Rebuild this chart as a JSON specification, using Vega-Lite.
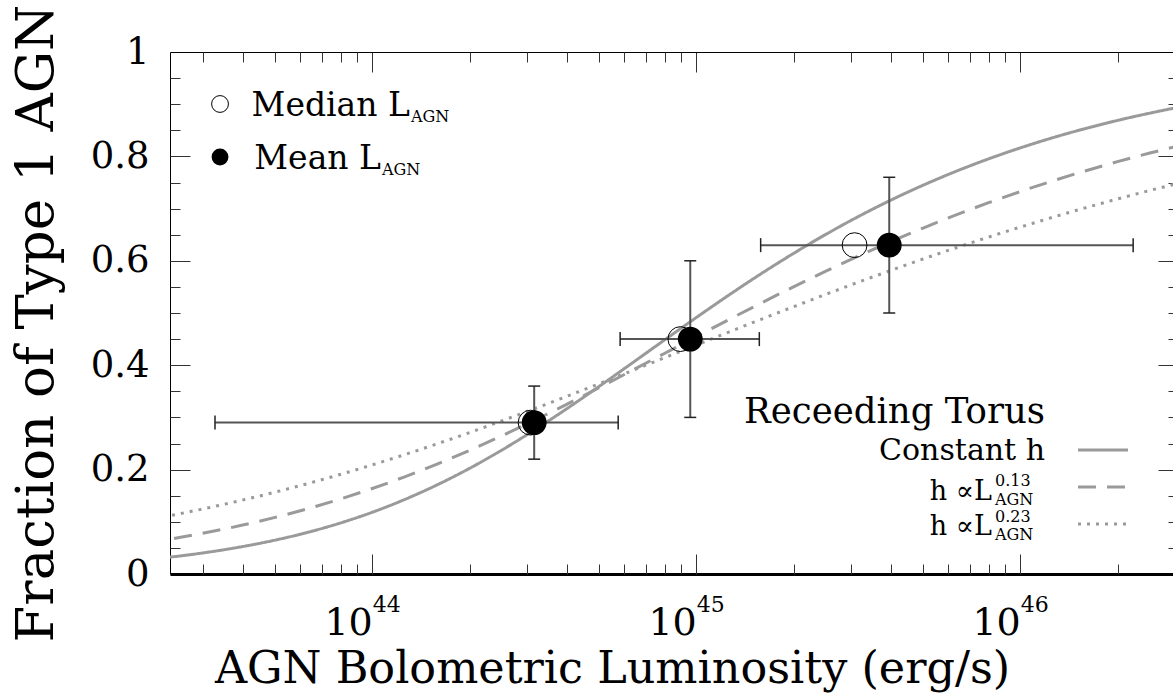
{
  "$schema": "https://vega.github.io/schema/vega-lite/v6.json",
  "width": 1003,
  "height": 522,
  "autosize": {"type": "none"},
  "padding": {"left": 170, "top": 52, "right": 0, "bottom": 122},
  "background": "white",
  "config": {
    "view": {"stroke": null},
    "font": "DejaVu Serif",
    "axis": {"grid": false, "labelFont": "DejaVu Serif", "titleFont": "DejaVu Serif", "labelColor": "#000", "titleColor": "#000", "tickColor": "#333", "domainColor": "#000", "labelFlush": false, "labelOverlap": false, "labelBound": false, "titleFontWeight": "normal"}
  },
  "datasets": {
    "curves": [
      {"L": 1.9953e43, "c": 0.0274, "a": 0.0595, "b": 0.1030},
      {"L": 2.5119e43, "c": 0.0341, "a": 0.0694, "b": 0.1148},
      {"L": 3.1623e43, "c": 0.0424, "a": 0.0808, "b": 0.1277},
      {"L": 3.9811e43, "c": 0.0526, "a": 0.0937, "b": 0.1417},
      {"L": 5.0119e43, "c": 0.0649, "a": 0.1084, "b": 0.1568},
      {"L": 6.3096e43, "c": 0.0797, "a": 0.1249, "b": 0.1731},
      {"L": 7.9433e43, "c": 0.0974, "a": 0.1434, "b": 0.1905},
      {"L": 1e44, "c": 0.1183, "a": 0.1638, "b": 0.2091},
      {"L": 1.2589e44, "c": 0.1427, "a": 0.1862, "b": 0.2287},
      {"L": 1.5849e44, "c": 0.1707, "a": 0.2106, "b": 0.2494},
      {"L": 1.9953e44, "c": 0.2023, "a": 0.2368, "b": 0.2709},
      {"L": 2.5119e44, "c": 0.2374, "a": 0.2648, "b": 0.2934},
      {"L": 3.1623e44, "c": 0.2757, "a": 0.2943, "b": 0.3165},
      {"L": 3.9811e44, "c": 0.3165, "a": 0.3251, "b": 0.3403},
      {"L": 5.0119e44, "c": 0.3593, "a": 0.3569, "b": 0.3645},
      {"L": 6.3096e44, "c": 0.4032, "a": 0.3893, "b": 0.3891},
      {"L": 7.9433e44, "c": 0.4475, "a": 0.4220, "b": 0.4138},
      {"L": 1e45, "c": 0.4913, "a": 0.4547, "b": 0.4386},
      {"L": 1.2589e45, "c": 0.5341, "a": 0.4872, "b": 0.4634},
      {"L": 1.5849e45, "c": 0.5752, "a": 0.5190, "b": 0.4879},
      {"L": 1.9953e45, "c": 0.6141, "a": 0.5501, "b": 0.5120},
      {"L": 2.5119e45, "c": 0.6507, "a": 0.5801, "b": 0.5358},
      {"L": 3.1623e45, "c": 0.6847, "a": 0.6090, "b": 0.5590},
      {"L": 3.9811e45, "c": 0.7161, "a": 0.6365, "b": 0.5815},
      {"L": 5.0119e45, "c": 0.7448, "a": 0.6627, "b": 0.6035},
      {"L": 6.3096e45, "c": 0.7710, "a": 0.6874, "b": 0.6246},
      {"L": 7.9433e45, "c": 0.7948, "a": 0.7108, "b": 0.6450},
      {"L": 1e46, "c": 0.8163, "a": 0.7326, "b": 0.6646},
      {"L": 1.2589e46, "c": 0.8358, "a": 0.7531, "b": 0.6834},
      {"L": 1.5849e46, "c": 0.8532, "a": 0.7721, "b": 0.7014},
      {"L": 1.9953e46, "c": 0.8689, "a": 0.7899, "b": 0.7185},
      {"L": 2.5119e46, "c": 0.8829, "a": 0.8064, "b": 0.7348},
      {"L": 3.1623e46, "c": 0.8955, "a": 0.8217, "b": 0.7503},
      {"L": 3.9811e46, "c": 0.9068, "a": 0.8358, "b": 0.7650}
    ],
    "pts": [
      {"Lmed": 3.08e44, "Lmean": 3.16e44, "f": 0.29, "Llo": 3.27e43, "Lhi": 5.74e44, "flo": 0.22, "fhi": 0.36},
      {"Lmed": 8.93e44, "Lmean": 9.58e44, "f": 0.45, "Llo": 5.82e44, "Lhi": 1.565e45, "flo": 0.30, "fhi": 0.60},
      {"Lmed": 3.08e45, "Lmean": 3.94e45, "f": 0.63, "Llo": 1.58e45, "Lhi": 2.23e46, "flo": 0.50, "fhi": 0.76}
    ]
  },
  "resolve": {"axis": {"x": "independent", "y": "independent"}},
  "layer": [
    {
      "data": {"name": "curves"},
      "transform": [{"fold": ["c", "a", "b"], "as": ["model", "f"]}],
      "mark": {"type": "line", "clip": true, "color": "#9a9a9a", "strokeWidth": 3, "interpolate": "monotone"},
      "encoding": {
        "x": {"field": "L", "type": "quantitative",
          "scale": {"type": "log", "domain": [2.375e43, 2.96e46], "nice": false},
          "axis": {"orient": "bottom", "values": [1e44, 1e45, 1e46], "labels": false, "ticks": false, "tickSize": 0, "domain": true, "domainWidth": 3, "title": "AGN Bolometric Luminosity (erg/s)", "titleFontSize": 44.5, "titleX": 442, "titleY": 108, "titleAlign": "center", "titleBaseline": "alphabetic"}},
        "y": {"field": "f", "type": "quantitative",
          "scale": {"domain": [0, 1], "nice": false},
          "axis": {"orient": "left", "values": [0, 0.2, 0.4, 0.6, 0.8, 1], "format": ".1~f", "ticks": false, "tickSize": 0, "labelFontSize": 37, "labelPadding": 21, "labelBaseline": "middle", "domain": true, "domainWidth": 1, "title": "Fraction of Type 1 AGN", "titleFontSize": 53, "titleAngle": 270, "titleX": -118, "titleY": 271, "titleAlign": "center", "titleBaseline": "alphabetic"}},
        "strokeDash": {"field": "model", "type": "nominal", "scale": {"domain": ["c", "a", "b"], "range": [[1, 0], [18, 11], [3, 6]]}, "legend": null}
      }
    },
    {
      "data": {"name": "pts"},
      "mark": {"type": "rule", "color": "#555", "strokeWidth": 2},
      "encoding": {
        "x": {"field": "Llo", "type": "quantitative", "axis": {"orient": "bottom", "values": [1e44, 1e45, 1e46], "labels": false, "domain": false, "ticks": true, "tickSize": -20, "tickWidth": 1, "title": null}},
        "x2": {"field": "Lhi"},
        "y": {"field": "f", "type": "quantitative", "axis": {"orient": "left", "values": [0.2, 0.4, 0.6, 0.8], "labels": false, "domain": false, "ticks": true, "tickSize": -20, "tickWidth": 1, "title": null}}
      }
    },
    {
      "data": {"name": "pts"},
      "mark": {"type": "rule", "color": "#555", "strokeWidth": 2},
      "encoding": {
        "x": {"field": "Lmean", "type": "quantitative", "axis": {"orient": "bottom", "values": [3e43, 4e43, 5e43, 6e43, 7e43, 8e43, 9e43, 2e44, 3e44, 4e44, 5e44, 6e44, 7e44, 8e44, 9e44, 2e45, 3e45, 4e45, 5e45, 6e45, 7e45, 8e45, 9e45, 2e46], "labels": false, "domain": false, "ticks": true, "tickSize": -10, "tickWidth": 1, "title": null}},
        "y": {"field": "flo", "type": "quantitative", "axis": {"orient": "left", "values": [0.05, 0.1, 0.15, 0.25, 0.3, 0.35, 0.45, 0.5, 0.55, 0.65, 0.7, 0.75, 0.85, 0.9, 0.95], "labels": false, "domain": false, "ticks": true, "tickSize": -10, "tickWidth": 1, "title": null}},
        "y2": {"field": "fhi"}
      }
    },
    {
      "data": {"name": "pts"},
      "transform": [{"fold": ["Llo", "Lhi"], "as": ["end", "Lend"]}],
      "mark": {"type": "tick", "orient": "vertical", "size": 14, "thickness": 1.5, "color": "#222", "opacity": 1},
      "encoding": {
        "x": {"field": "Lend", "type": "quantitative", "axis": {"orient": "top", "values": [1e44, 1e45, 1e46], "labels": false, "domain": true, "domainWidth": 1, "ticks": true, "tickSize": -20, "tickWidth": 1, "title": null}},
        "y": {"field": "f", "type": "quantitative", "axis": {"orient": "right", "offset": 5, "values": [0.2, 0.4, 0.6, 0.8], "labels": false, "domain": false, "ticks": true, "tickSize": -20, "tickWidth": 1, "title": null}}
      }
    },
    {
      "data": {"name": "pts"},
      "transform": [{"fold": ["flo", "fhi"], "as": ["end", "fend"]}],
      "mark": {"type": "tick", "orient": "horizontal", "size": 12, "thickness": 1.5, "color": "#222", "opacity": 1},
      "encoding": {
        "x": {"field": "Lmean", "type": "quantitative", "axis": {"orient": "top", "values": [3e43, 4e43, 5e43, 6e43, 7e43, 8e43, 9e43, 2e44, 3e44, 4e44, 5e44, 6e44, 7e44, 8e44, 9e44, 2e45, 3e45, 4e45, 5e45, 6e45, 7e45, 8e45, 9e45, 2e46], "labels": false, "domain": false, "ticks": true, "tickSize": -10, "tickWidth": 1, "title": null}},
        "y": {"field": "fend", "type": "quantitative", "axis": {"orient": "right", "offset": 5, "values": [0.05, 0.1, 0.15, 0.25, 0.3, 0.35, 0.45, 0.5, 0.55, 0.65, 0.7, 0.75, 0.85, 0.9, 0.95], "labels": false, "domain": false, "ticks": true, "tickSize": -10, "tickWidth": 1, "title": null}}
      }
    },
    {
      "data": {"name": "pts"},
      "mark": {"type": "point", "shape": "circle", "filled": false, "stroke": "#000", "strokeWidth": 1, "size": 616, "opacity": 1},
      "encoding": {
        "x": {"field": "Lmed", "type": "quantitative", "axis": {"orient": "bottom", "values": [1e44, 1e45, 1e46], "labelExpr": "'10'", "ticks": false, "tickSize": 0, "domain": false, "labelFontSize": 38, "labelAlign": "right", "labelDx": 2, "labelBaseline": "alphabetic", "labelPadding": 60, "title": null}},
        "y": {"field": "f", "type": "quantitative", "axis": null}
      }
    },
    {
      "data": {"name": "pts"},
      "mark": {"type": "point", "shape": "circle", "filled": true, "color": "#000", "size": 616, "opacity": 1},
      "encoding": {
        "x": {"field": "Lmean", "type": "quantitative", "axis": {"orient": "bottom", "values": [1e44, 1e45, 1e46], "labelExpr": "datum.value > 5e45 ? '46' : datum.value > 5e44 ? '45' : '44'", "ticks": false, "tickSize": 0, "domain": false, "labelFontSize": 22, "labelAlign": "left", "labelDx": 3, "labelBaseline": "alphabetic", "labelPadding": 37, "title": null}},
        "y": {"field": "f", "type": "quantitative", "axis": null}
      }
    },
    {
      "data": {"values": [{}]},
      "mark": {"type": "point", "shape": "circle", "filled": false, "stroke": "#000", "strokeWidth": 1, "size": 283, "opacity": 1},
      "encoding": {"x": {"datum": 3.389e43, "type": "quantitative", "axis": null}, "y": {"datum": 0.9004, "type": "quantitative", "axis": null}}
    },
    {
      "data": {"values": [{}]},
      "mark": {"type": "point", "shape": "circle", "filled": true, "color": "#000", "size": 283, "opacity": 1},
      "encoding": {"x": {"datum": 3.389e43, "type": "quantitative", "axis": null}, "y": {"datum": 0.7989, "type": "quantitative", "axis": null}}
    },
    {
      "data": {"values": [{}]},
      "mark": {"type": "text", "text": "Median L", "font": "DejaVu Serif", "fontSize": 33, "align": "right", "baseline": "alphabetic", "color": "#000"},
      "encoding": {"x": {"datum": 1.307e44, "type": "quantitative", "axis": null}, "y": {"datum": 0.8774, "type": "quantitative", "axis": null}}
    },
    {
      "data": {"values": [{}]},
      "mark": {"type": "text", "text": "AGN", "font": "DejaVu Serif", "fontSize": 16, "align": "left", "baseline": "alphabetic", "dx": 1, "color": "#000"},
      "encoding": {"x": {"datum": 1.307e44, "type": "quantitative", "axis": null}, "y": {"datum": 0.8659, "type": "quantitative", "axis": null}}
    },
    {
      "data": {"values": [{}]},
      "mark": {"type": "text", "text": "Mean L", "font": "DejaVu Serif", "fontSize": 33, "align": "right", "baseline": "alphabetic", "color": "#000"},
      "encoding": {"x": {"datum": 1.0637e44, "type": "quantitative", "axis": null}, "y": {"datum": 0.7759, "type": "quantitative", "axis": null}}
    },
    {
      "data": {"values": [{}]},
      "mark": {"type": "text", "text": "AGN", "font": "DejaVu Serif", "fontSize": 16, "align": "left", "baseline": "alphabetic", "dx": 1, "color": "#000"},
      "encoding": {"x": {"datum": 1.0637e44, "type": "quantitative", "axis": null}, "y": {"datum": 0.7644, "type": "quantitative", "axis": null}}
    },
    {
      "data": {"values": [{}]},
      "mark": {"type": "text", "text": "Receeding Torus", "font": "DejaVu Serif", "fontSize": 35.5, "align": "right", "baseline": "alphabetic", "color": "#000"},
      "encoding": {"x": {"datum": 1.192e46, "type": "quantitative", "axis": null}, "y": {"datum": 0.2893, "type": "quantitative", "axis": null}}
    },
    {
      "data": {"values": [{}]},
      "mark": {"type": "text", "text": "Constant h", "font": "DejaVu Serif", "fontSize": 30, "align": "right", "baseline": "alphabetic", "color": "#000"},
      "encoding": {"x": {"datum": 1.192e46, "type": "quantitative", "axis": null}, "y": {"datum": 0.2184, "type": "quantitative", "axis": null}}
    },
    {
      "data": {"values": [{}]},
      "mark": {"type": "text", "text": "h ∝L", "font": "DejaVu Serif", "fontSize": 27, "align": "right", "baseline": "alphabetic", "color": "#000"},
      "encoding": {"x": {"datum": 8.178e45, "type": "quantitative", "axis": null}, "y": {"datum": 0.1418, "type": "quantitative", "axis": null}}
    },
    {
      "data": {"values": [{}]},
      "mark": {"type": "text", "text": "0.13", "font": "DejaVu Serif", "fontSize": 16, "align": "left", "baseline": "alphabetic", "color": "#000"},
      "encoding": {"x": {"datum": 8.355e45, "type": "quantitative", "axis": null}, "y": {"datum": 0.1686, "type": "quantitative", "axis": null}}
    },
    {
      "data": {"values": [{}]},
      "mark": {"type": "text", "text": "AGN", "font": "DejaVu Serif", "fontSize": 16, "align": "left", "baseline": "alphabetic", "color": "#000"},
      "encoding": {"x": {"datum": 8.355e45, "type": "quantitative", "axis": null}, "y": {"datum": 0.1322, "type": "quantitative", "axis": null}}
    },
    {
      "data": {"values": [{}]},
      "mark": {"type": "text", "text": "h ∝L", "font": "DejaVu Serif", "fontSize": 27, "align": "right", "baseline": "alphabetic", "color": "#000"},
      "encoding": {"x": {"datum": 8.178e45, "type": "quantitative", "axis": null}, "y": {"datum": 0.0747, "type": "quantitative", "axis": null}}
    },
    {
      "data": {"values": [{}]},
      "mark": {"type": "text", "text": "0.23", "font": "DejaVu Serif", "fontSize": 16, "align": "left", "baseline": "alphabetic", "color": "#000"},
      "encoding": {"x": {"datum": 8.355e45, "type": "quantitative", "axis": null}, "y": {"datum": 0.0996, "type": "quantitative", "axis": null}}
    },
    {
      "data": {"values": [{}]},
      "mark": {"type": "text", "text": "AGN", "font": "DejaVu Serif", "fontSize": 16, "align": "left", "baseline": "alphabetic", "color": "#000"},
      "encoding": {"x": {"datum": 8.355e45, "type": "quantitative", "axis": null}, "y": {"datum": 0.0651, "type": "quantitative", "axis": null}}
    },
    {
      "data": {"values": [{}]},
      "mark": {"type": "rule", "color": "#9a9a9a", "strokeWidth": 3},
      "encoding": {"x": {"datum": 1.507e46, "type": "quantitative", "axis": null}, "x2": {"datum": 2.15e46}, "y": {"datum": 0.2375, "type": "quantitative", "axis": null}}
    },
    {
      "data": {"values": [{}]},
      "mark": {"type": "rule", "color": "#9a9a9a", "strokeWidth": 3, "strokeDash": [18, 11]},
      "encoding": {"x": {"datum": 1.507e46, "type": "quantitative", "axis": null}, "x2": {"datum": 2.15e46}, "y": {"datum": 0.1667, "type": "quantitative", "axis": null}}
    },
    {
      "data": {"values": [{}]},
      "mark": {"type": "rule", "color": "#9a9a9a", "strokeWidth": 3, "strokeDash": [3, 6]},
      "encoding": {"x": {"datum": 1.507e46, "type": "quantitative", "axis": null}, "x2": {"datum": 2.15e46}, "y": {"datum": 0.0958, "type": "quantitative", "axis": null}}
    }
  ]
}
